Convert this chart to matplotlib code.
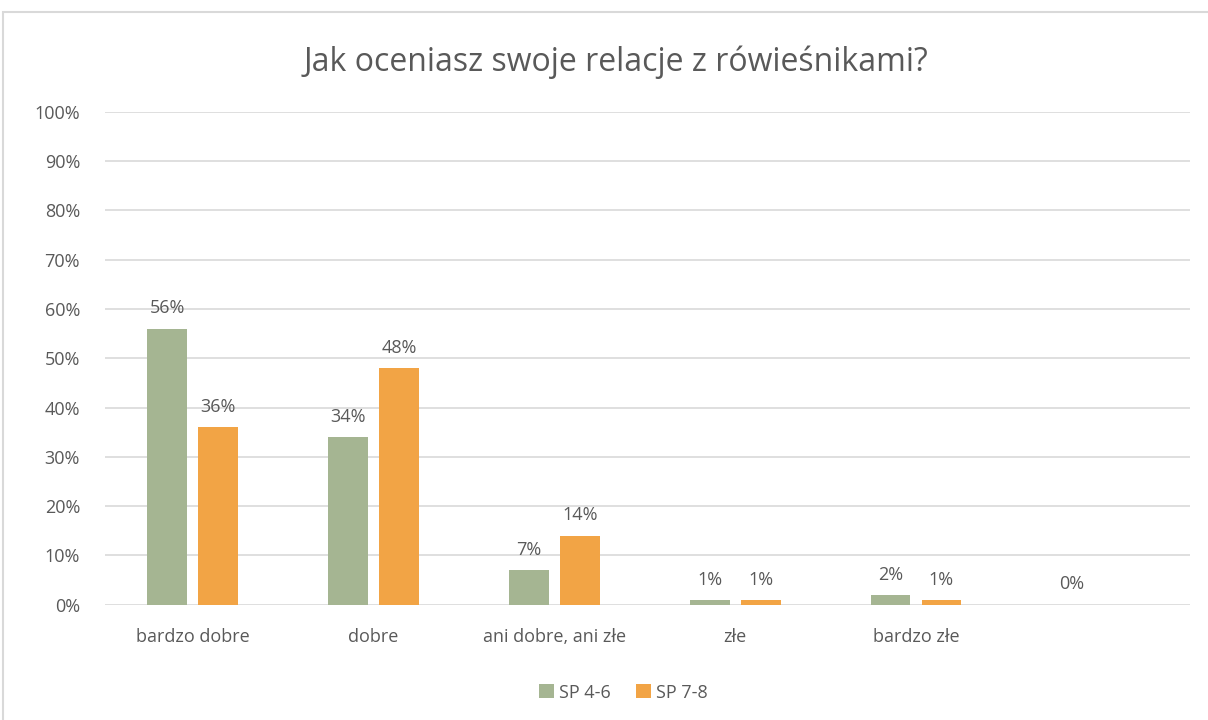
import matplotlib.pyplot as plt
import matplotlib.patches as mpatches
import numpy as np

# dane z wykresu
categories = ['bardzo dobre', 'dobre', 'ani dobre, ani złe', 'złe', 'bardzo złe', '']
sp46 = [56, 34, 7, 1, 2, 0]
sp78 = [36, 48, 14, 1, 1, None]
series_names = ['SP 4-6', 'SP 7-8']

green = '#A5B592'
orange = '#F2A445'
txt = '#595959'
grid = '#D9D9D9'

plt.rcParams['font.family'] = ['Open Sans', 'DejaVu Sans']

fig = plt.figure(figsize=(12.08, 7.2), dpi=100)
ax = fig.add_axes([0.087, 0.16, 0.898, 0.685])

# ramka wykresu
fig.patches.append(mpatches.Rectangle((3 / 1208, -0.01), 1.02, 1 - 12 / 720 + 0.01,
                                      transform=fig.transFigure, fill=False,
                                      edgecolor='#D9D9D9', linewidth=1.5))

x = np.arange(len(categories))
w = 0.22
off = 0.141

v46 = [v for v in sp46]
v78 = [0 if v is None else v for v in sp78]
b1 = ax.bar(x - off, v46, w, color=green, label=series_names[0], zorder=3)
b2 = ax.bar(x + off, v78, w, color=orange, label=series_names[1], zorder=3)

for i in range(len(categories)):
    ax.text(x[i] - off, sp46[i] + 2.3, str(sp46[i]) + '%', ha='center', va='bottom',
            fontsize=13, color=txt)
    if sp78[i] is not None:
        ax.text(x[i] + off, sp78[i] + 2.3, str(sp78[i]) + '%', ha='center', va='bottom',
                fontsize=13, color=txt)

ax.set_xlim(-0.485, len(categories) - 0.485)
ax.set_ylim(0, 100)
ax.set_yticks(range(0, 101, 10))
ax.set_yticklabels([str(t) + '%' for t in range(0, 101, 10)], fontsize=13, color=txt)
ax.set_xticks(x)
ax.set_xticklabels(categories, fontsize=13, color=txt)
ax.tick_params(axis='both', length=0)
ax.tick_params(axis='y', pad=18)
ax.tick_params(axis='x', pad=17)
ax.yaxis.grid(True, color=grid, linewidth=1.2, zorder=0)
ax.set_axisbelow(True)
for s in ax.spines.values():
    s.set_visible(False)

fig.text(0.51, 0.913, 'Jak oceniasz swoje relacje z rówieśnikami?', ha='center', va='center',
         fontsize=23, color=txt)

ax.legend(loc='center', bbox_to_anchor=(0.478, -0.178), ncol=2, frameon=False,
          fontsize=13, labelcolor=txt, handlelength=0.8, handleheight=0.8,
          handletextpad=0.3, columnspacing=1.4)

plt.savefig('out.png', dpi=100)
